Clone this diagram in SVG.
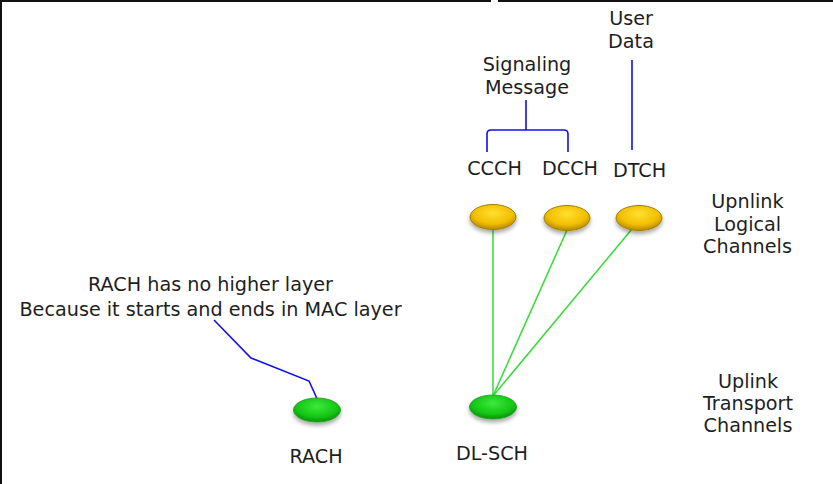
<svg xmlns="http://www.w3.org/2000/svg" width="833" height="484" viewBox="0 0 833 484">
<style>
text{font-family:"DejaVu Sans","Verdana",sans-serif;font-size:19.2px;fill:#1e1e1e;text-anchor:middle}
.blue{stroke:#1010ee;stroke-width:1.6;fill:none}
.green{stroke:#33dd33;stroke-width:1.5;fill:none}
.gold{fill:url(#gGold);stroke:#a07e00;stroke-width:1}
.grn{fill:url(#gGreen);stroke:#1a9a1a;stroke-width:0.8}
</style>
<defs>
<radialGradient id="gGold" cx="0.5" cy="0.35" r="0.6">
<stop offset="0" stop-color="#ffe030"/>
<stop offset="0.7" stop-color="#f2bf00"/>
<stop offset="1" stop-color="#c29300"/>
</radialGradient>
<radialGradient id="gGreen" cx="0.5" cy="0.35" r="0.6">
<stop offset="0" stop-color="#3ee83e"/>
<stop offset="0.7" stop-color="#14c814"/>
<stop offset="1" stop-color="#0e9e0e"/>
</radialGradient>
<filter id="sh" x="-30%" y="-30%" width="160%" height="180%">
<feGaussianBlur in="SourceAlpha" stdDeviation="2"/>
<feOffset dx="0" dy="3" result="b"/>
<feComponentTransfer><feFuncA type="linear" slope="0.35"/></feComponentTransfer>
<feMerge><feMergeNode/><feMergeNode in="SourceGraphic"/></feMerge>
</filter>
</defs>
<rect width="833" height="484" fill="#fff"/>
<g id="frame">
<line x1="0" y1="1" x2="491" y2="1" stroke="#111" stroke-width="2"/>
<line x1="498" y1="1" x2="833" y2="1" stroke="#111" stroke-width="2"/>
<line x1="1" y1="0" x2="1" y2="484" stroke="#111" stroke-width="2"/>
</g>
<g id="connectors">
<line class="green" x1="493" y1="396" x2="493" y2="229"/>
<line class="green" x1="493" y1="396" x2="567" y2="230"/>
<line class="green" x1="493" y1="396" x2="632" y2="229"/>
<path class="blue" d="M526,100 V130 M487,152 V134 Q487,130 491,130 H564 Q568,130 568,134 V152"/>
<line class="blue" x1="632" y1="60" x2="632" y2="150"/>
<polyline class="blue" points="214,320 251,358 309,381 319,403"/>
</g>
<g id="ccch"><ellipse class="gold" cx="493" cy="217" rx="23" ry="12.5" filter="url(#sh)"/><text x="494.5" y="175">CCCH</text></g>
<g id="dcch"><ellipse class="gold" cx="567" cy="218" rx="23" ry="12.5" filter="url(#sh)"/><text x="570" y="175">DCCH</text></g>
<g id="dtch"><ellipse class="gold" cx="639" cy="218" rx="23" ry="12.5" filter="url(#sh)"/><text x="639.5" y="176.5">DTCH</text></g>
<g id="rach"><ellipse class="grn" cx="317" cy="410" rx="23.5" ry="12" filter="url(#sh)"/><text x="316" y="463">RACH</text></g>
<g id="dlsch"><ellipse class="grn" cx="493" cy="407" rx="23.5" ry="12" filter="url(#sh)"/><text x="492" y="460">DL-SCH</text></g>
<g id="signaling"><text x="527" y="70.5">Signaling</text><text x="527" y="93.5">Message</text></g>
<g id="userdata"><text x="631" y="25">User</text><text x="631" y="48">Data</text></g>
<g id="logical"><text x="747.5" y="207.5">Upnlink</text><text x="747.5" y="230.5">Logical</text><text x="747.5" y="252.5">Channels</text></g>
<g id="transport"><text x="748" y="387.5">Uplink</text><text x="748" y="410">Transport</text><text x="748" y="431.5">Channels</text></g>
<g id="note"><text x="210.5" y="290.5">RACH has no higher layer</text><text x="210.5" y="316">Because it starts and ends in MAC layer</text></g>
</svg>
